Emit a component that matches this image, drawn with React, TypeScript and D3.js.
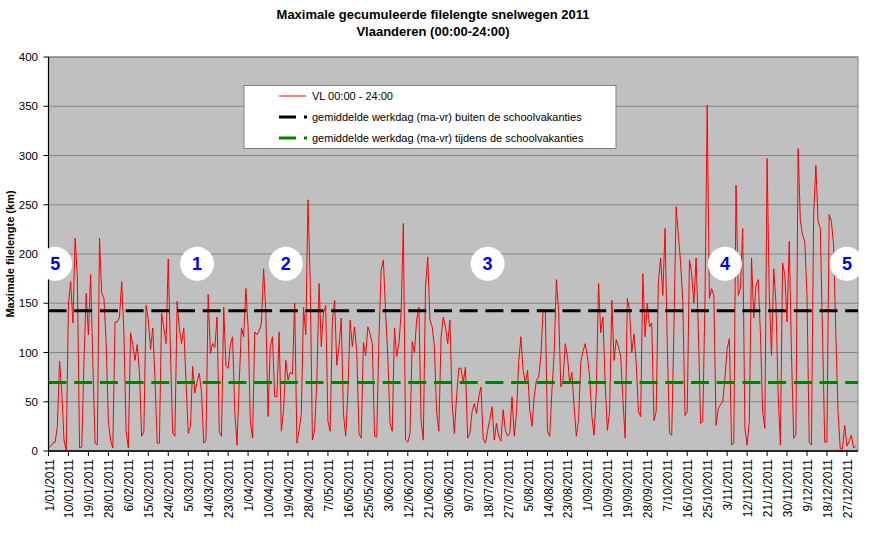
import React from "react";
import * as d3 from "d3";

// Daily maximum cumulative queue length (km), 1/01/2011 .. 31/12/2011
const dailyValues: number[] = [
  3, 5, 8, 9, 25, 91, 59,
  11, 0, 150, 172, 130, 216, 177,
  3, 4, 92, 160, 118, 179, 90,
  8, 6, 216, 160, 155, 110, 30,
  11, 3, 131, 131, 136, 172, 120,
  20, 3, 120, 108, 92, 108, 80,
  15, 20, 148, 133, 103, 125, 75,
  8, 8, 140, 125, 109, 195, 100,
  18, 15, 152, 125, 109, 125, 70,
  18, 25, 86, 59, 70, 79, 59,
  8, 11, 159, 99, 109, 105, 136,
  20, 15, 146, 86, 84, 108, 116,
  40, 6, 70, 125, 116, 165, 125,
  30, 13, 121, 118, 122, 130, 185,
  140, 35, 106, 116, 55, 55, 121,
  20, 42, 92, 72, 80, 78, 150,
  8, 21, 38, 146, 118, 255, 173,
  11, 21, 72, 170, 106, 140, 148,
  30, 20, 133, 153, 87, 106, 135,
  38, 15, 60, 133, 106, 126, 100,
  18, 13, 110, 97, 126, 119, 109,
  15, 14, 115, 184, 194, 140, 96,
  28, 20, 125, 96, 109, 140, 231,
  11, 9, 18, 111, 100, 133, 146,
  31, 11, 167, 197, 133, 126, 106,
  40, 20, 115, 136, 126, 109, 133,
  48, 18, 55, 84, 84, 69, 85,
  13, 18, 40, 48, 38, 55, 65,
  12, 8, 21, 32, 45, 11, 28,
  15, 10, 42, 21, 15, 18, 55,
  15, 38, 90, 116, 82, 69, 82,
  42, 25, 55, 72, 75, 96, 143,
  143, 20, 15, 62, 99, 174, 143,
  65, 72, 109, 96, 69, 80, 45,
  15, 32, 90, 101, 109, 96, 75,
  35, 16, 60, 170, 120, 136, 69,
  21, 40, 153, 92, 113, 106, 96,
  52, 13, 155, 143, 100, 119, 89,
  40, 35, 180, 116, 150, 126, 130,
  31, 40, 172, 196, 158, 226, 108,
  18, 16, 124, 248, 219, 192, 152,
  36, 40, 194, 180, 150, 196, 124,
  28, 30, 152, 351, 155, 165, 158,
  26, 43, 47, 50, 74, 104, 114,
  6, 8, 270, 158, 165, 226, 23,
  6, 30, 196, 135, 168, 174, 120,
  40, 23, 297, 158, 97, 185, 150,
  57, 6, 191, 179, 131, 213, 100,
  13, 16, 307, 234, 219, 213, 158,
  9, 6, 240, 290, 233, 226, 120,
  9, 9, 240, 233, 209, 120, 40,
  2, 2, 26, 5, 10, 16, 3,
  5,
];

const xTickLabels: string[] = [
  "1/01/2011", "10/01/2011", "19/01/2011", "28/01/2011", "6/02/2011", "15/02/2011",
  "24/02/2011", "5/03/2011", "14/03/2011", "23/03/2011", "1/04/2011", "10/04/2011",
  "19/04/2011", "28/04/2011", "7/05/2011", "16/05/2011", "25/05/2011", "3/06/2011",
  "12/06/2011", "21/06/2011", "30/06/2011", "9/07/2011", "18/07/2011", "27/07/2011",
  "5/08/2011", "14/08/2011", "23/08/2011", "1/09/2011", "10/09/2011", "19/09/2011",
  "28/09/2011", "7/10/2011", "16/10/2011", "25/10/2011", "3/11/2011", "12/11/2011",
  "21/11/2011", "30/11/2011", "9/12/2011", "18/12/2011", "27/12/2011",
];
const xTickStep = 9;
const yTicks: number[] = [0, 50, 100, 150, 200, 250, 300, 350, 400];

const avgOutsideHolidays = 142.5;
const avgDuringHolidays = 69.5;

// school holiday markers: day index, label
const holidayDays: number[] = [3, 67, 107, 198, 305, 360];
const holidayLabels: string[] = ["5", "1", "2", "3", "4", "5"];
const holidayMarkerValue = 190;

const legendLabels: string[] = [
  "VL 00:00 - 24:00",
  "gemiddelde werkdag (ma-vr) buiten de schoolvakanties",
  "gemiddelde werkdag (ma-vr) tijdens de schoolvakanties",
];

const FONT = "'Liberation Sans', Arial, Helvetica, sans-serif";

export default function App() {
  const W = 873;
  const H = 535;
  const x = d3.scaleLinear().domain([0, 365]).range([48.5, 858]);
  const y = d3.scaleLinear().domain([0, 400]).range([451, 57]);

  const line = d3
    .line<number>()
    .x((_, i) => x(i))
    .y((v) => y(v));

  const dash = "18 7.7";

  return (
    <svg
      width={W}
      height={H}
      style={{ position: "absolute", left: 0, top: 0, background: "#fff" }}
      fontFamily={FONT}
    >
      <rect x={0} y={0} width={W} height={H} fill="#fff" />
      {/* title */}
      <text x={433} y={19} textAnchor="middle" fontSize={13} fontWeight="bold">
        Maximale gecumuleerde filelengte snelwegen 2011
      </text>
      <text x={433} y={36} textAnchor="middle" fontSize={13} fontWeight="bold">
        Vlaanderen (00:00-24:00)
      </text>

      {/* plot area */}
      <rect
        x={x(0)}
        y={y(400)}
        width={x(365) - x(0)}
        height={y(0) - y(400)}
        fill="#C0C0C0"
        stroke="#808080"
        strokeWidth={1}
      />
      {yTicks.map((t) => (
        <line
          key={"g" + t}
          x1={x(0)}
          x2={x(365)}
          y1={y(t)}
          y2={y(t)}
          stroke="#858585"
          strokeWidth={1}
        />
      ))}

      {/* data line */}
      <path d={line(dailyValues) || ""} fill="none" stroke="#FF0000" strokeWidth={1} />

      {/* reference lines */}
      <line
        x1={x(0)}
        x2={x(365)}
        y1={y(avgOutsideHolidays)}
        y2={y(avgOutsideHolidays)}
        stroke="#000"
        strokeWidth={3}
        strokeDasharray={dash}
      />
      <line
        x1={x(0)}
        x2={x(365)}
        y1={y(avgDuringHolidays)}
        y2={y(avgDuringHolidays)}
        stroke="#008000"
        strokeWidth={3}
        strokeDasharray={dash}
      />

      {/* axes */}
      <line x1={x(0)} x2={x(0)} y1={y(0)} y2={y(400)} stroke="#000" strokeWidth={1.2} />
      <line x1={x(0)} x2={x(365)} y1={y(0)} y2={y(0)} stroke="#000" strokeWidth={1.5} />
      {yTicks.map((t) => (
        <g key={"yt" + t}>
          <line x1={x(0) - 5} x2={x(0)} y1={y(t)} y2={y(t)} stroke="#000" />
          <text x={38} y={y(t) + 4} textAnchor="end" fontSize={11.5}>
            {t}
          </text>
        </g>
      ))}
      {xTickLabels.map((lab, i) => {
        const xi = x(i * xTickStep);
        return (
          <g key={"xt" + i}>
            <line x1={xi} x2={xi} y1={y(0)} y2={y(0) + 5} stroke="#000" />
            <text
              transform={`translate(${xi + 5},${y(0) + 8}) rotate(-90)`}
              textAnchor="end"
              fontSize={12}
            >
              {lab}
            </text>
          </g>
        );
      })}
      <text
        transform={`translate(14,${(y(0) + y(400)) / 2}) rotate(-90)`}
        textAnchor="middle"
        fontSize={11}
        fontWeight="bold"
      >
        Maximale filelengte (km)
      </text>

      {/* legend */}
      <rect x={244} y={85.5} width={372} height={63} fill="#fff" stroke="#808080" strokeWidth={1} />
      <line x1={279} x2={306} y1={96} y2={96} stroke="#FF0000" strokeWidth={1} />
      <line x1={279} x2={307} y1={117} y2={117} stroke="#000" strokeWidth={3} strokeDasharray="17 8" />
      <line x1={279} x2={307} y1={138} y2={138} stroke="#008000" strokeWidth={3} strokeDasharray="17 8" />
      {legendLabels.map((l, i) => (
        <text key={l} x={312} y={100 + i * 21} fontSize={11}>
          {l}
        </text>
      ))}

      {/* holiday markers */}
      {holidayDays.map((d, i) => (
        <g key={"h" + i}>
          <circle cx={x(d)} cy={y(holidayMarkerValue)} r={17} fill="#fff" />
          <text
            x={x(d)}
            y={y(holidayMarkerValue) + 6.5}
            textAnchor="middle"
            fontSize={18}
            fontWeight="bold"
            fill="#0000EE"
          >
            {holidayLabels[i]}
          </text>
        </g>
      ))}
    </svg>
  );
}
